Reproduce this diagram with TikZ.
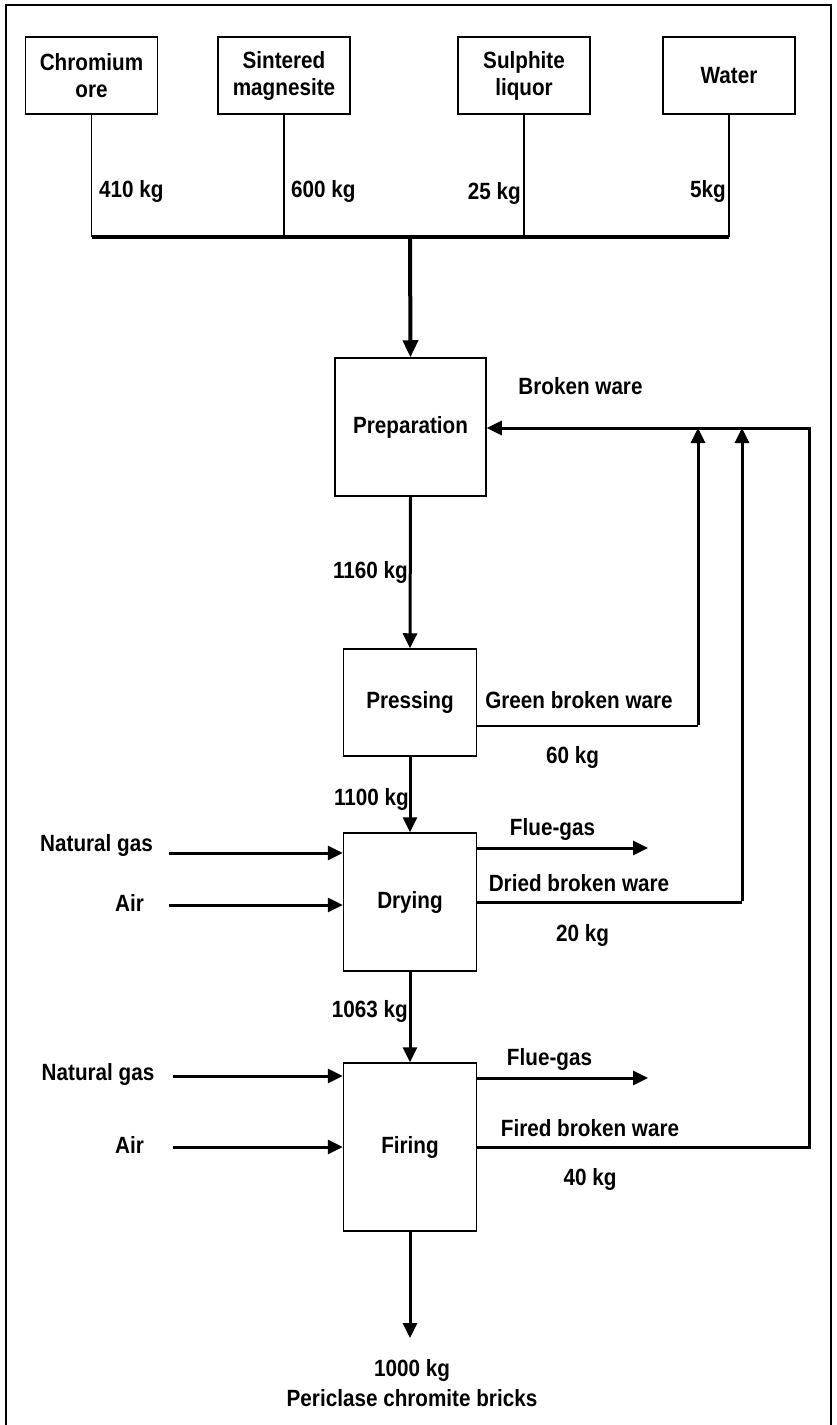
\documentclass[tikz,border=0pt]{standalone}
\usepackage{fontspec}
\setmainfont{Liberation Sans}[FakeStretch=0.88]
\usetikzlibrary{arrows.meta}
\begin{document}
\begin{tikzpicture}[x=1pt,y=-1pt,
  txt/.style={font=\fontsize{23.5}{27}\selectfont\bfseries, inner sep=0pt, text height=17pt, text depth=5pt},
  boxtxt/.style={font=\fontsize{23.5}{27}\selectfont\bfseries, align=center},
  unit/.style={draw, line width=1.5pt, boxtxt, inner sep=0pt},
  src/.style={unit, minimum width=132pt, minimum height=77pt},
  thin/.style={line width=1.6pt},
  thick/.style={line width=3pt},
  arr/.style={line width=3pt, -{Triangle[length=15pt,width=14pt]}},
]
\useasboundingbox (0,0) rectangle (837,1425);
\draw[line width=2pt] (6,1426) -- (6,5) -- (831,5) -- (831,1426);

% source boxes
\node[src] (chrom) at (91.5,75.5) {Chromium\\ore};
\node[src] (sint)  at (284,75.5) {Sintered\\magnesite};
\node[src] (sulph) at (524,75.5) {Sulphite\\liquor};
\node[src] (water) at (729,75.5) {Water};

% process boxes
\node[unit, minimum width=151pt, minimum height=138pt] (prep)  at (410.5,427) {Preparation};
\node[unit, minimum width=133pt, minimum height=107pt] (press) at (410,702.5) {Pressing};
\node[unit, minimum width=133pt, minimum height=138pt] (dry)   at (410,902) {Drying};
\node[unit, minimum width=133pt, minimum height=168pt] (fire)  at (410,1147) {Firing};

% bus
\coordinate (busL) at (92,237);
\coordinate (busR) at (729,237);
\coordinate (busM) at (410,237);
\draw[thin] (chrom.south) -- (chrom.south |- busL);
\draw[thin] (sint.south) -- (sint.south |- busL);
\draw[thin] (sulph.south) -- (sulph.south |- busL);
\draw[thin] (water.south) -- (water.south |- busL);
\draw[line width=4pt] (busL) -- (busR);
\draw[line width=4pt, -{Triangle[length=17pt,width=15pt]}] (busM) -- (prep.north);

\node[txt, anchor=west] (l410) at (99,191.5) {410 kg};
\node[txt, anchor=west] (l600) at (291,191.5) {600 kg};
\node[txt, anchor=east] (l25) at (521,193.5) {25 kg};
\node[txt, anchor=east] (l5) at (726,191.5) {5kg};

% main line
\draw[arr] (prep.south) -- (press.north);
\draw[arr] (press.south) -- (dry.north);
\draw[arr] (dry.south) -- (fire.north);
\coordinate (prodEnd) at (410,1338);
\draw[arr] (fire.south) -- (prodEnd);

\node[txt, anchor=east] (l1160) at (408,572.5) {1160 kg};
\node[txt, anchor=east] (l1100) at (409,799.5) {1100 kg};
\node[txt, anchor=east] (l1063) at (408,1011.5) {1063 kg};
\node[txt] (l1000) at (412,1370.5) {1000 kg};
\node[txt] (lprod) at (412,1400.5) {Periclase chromite bricks};

% recycle lines
\coordinate (gA) at (698,726);
\coordinate (gTop) at (698,428);
\coordinate (dA) at (742,902);
\coordinate (dTop) at (742,428);
\coordinate (fA) at (809,1147);
\coordinate (fTop) at (809,428);
\draw[thin] (press.east |- gA) -- (gA);
\draw[arr] ([yshift=0.8pt]gA) -- (gTop);
\draw[thick] (dry.east |- dA) -- (dA);
\draw[arr] ([yshift=1.5pt]dA) -- (dTop);
\draw[arr] (fire.east |- fA) -- (fA) -- (fTop) -- (prep.east |- fTop);

\node[txt] (lbw) at (580.5,388.5) {Broken ware};
\node[txt] (lgbw) at (579,702.5) {Green broken ware};
\node[txt] (l60) at (572.5,757.5) {60 kg};
\node[txt] (ldbw) at (579,885.5) {Dried broken ware};
\node[txt] (l20) at (582.5,935.5) {20 kg};
\node[txt] (lfbw) at (590,1130.5) {Fired broken ware};
\node[txt] (l40) at (590,1179.5) {40 kg};

% flue gas
\coordinate (fg1) at (648,848);
\coordinate (fg2) at (648,1078);
\draw[arr] (dry.east |- fg1) -- (fg1);
\draw[arr] (fire.east |- fg2) -- (fg2);
\node[txt] (lfg1) at (552.5,829.5) {Flue-gas};
\node[txt] (lfg2) at (549.5,1059.5) {Flue-gas};

% inputs
\coordinate (ng1) at (169,853);
\coordinate (air1) at (169,905);
\coordinate (ng2) at (173,1076);
\coordinate (air2) at (173,1147);
\draw[arr] (ng1) -- (ng1 -| dry.west);
\draw[arr] (air1) -- (air1 -| dry.west);
\draw[arr] (ng2) -- (ng2 -| fire.west);
\draw[arr] (air2) -- (air2 -| fire.west);
\node[txt] (lng1) at (96.5,845.5) {Natural gas};
\node[txt] (lair1) at (129.5,905.5) {Air};
\node[txt] (lng2) at (98,1074.5) {Natural gas};
\node[txt] (lair2) at (129.5,1147.5) {Air};
\end{tikzpicture}
\end{document}
